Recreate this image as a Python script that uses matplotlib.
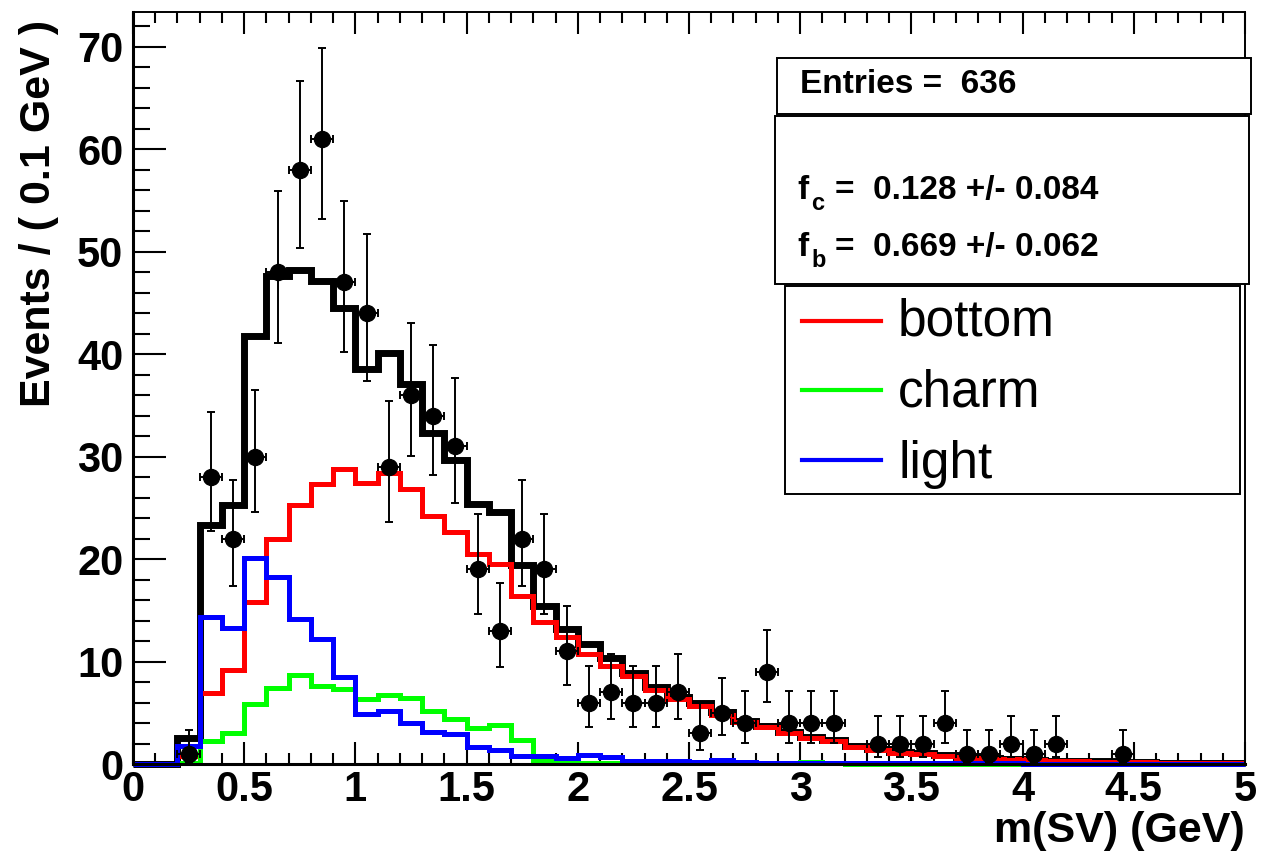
import math
import numpy as np
import matplotlib
matplotlib.use("Agg")
import matplotlib.pyplot as plt
from matplotlib.patches import Rectangle
from matplotlib.lines import Line2D

# ---------------- data ----------------
bin_edges = np.round(np.arange(0.0, 5.0001, 0.1), 2)

data_counts = [0, 0, 1, 28, 22, 30, 48, 58, 61, 47,
               44, 29, 36, 34, 31, 19, 13, 22, 19, 11,
               6, 7, 6, 6, 7, 3, 5, 4, 9, 4,
               4, 4, 0, 2, 2, 2, 4, 1, 1, 2,
               1, 2, 0, 0, 1, 0, 0, 0, 0, 0]

total_fit = [0, 0, 2.5, 23.3, 25.3, 41.8, 47.6, 48.2, 47.1, 44.5,
             38.6, 40.1, 37.1, 32.3, 29.7, 25.4, 24.6, 19.4, 15.4, 13.2,
             11.7, 10.3, 8.9, 7.5, 6.5, 6.0, 5.1, 4.2, 3.7, 3.1,
             2.6, 2.3, 1.8, 1.5, 1.2, 1.05, 0.85, 0.65, 0.55, 0.5,
             0.4, 0.33, 0.28, 0.25, 0.22, 0.18, 0.14, 0.12, 0.1, 0.08]

bottom_fit = [0, 0, 0.8, 6.9, 9.2, 15.8, 22.0, 25.3, 27.3, 28.8,
              27.4, 28.4, 26.8, 24.2, 22.6, 20.5, 19.5, 16.4, 13.9, 12.4,
              10.7, 9.6, 8.6, 7.2, 6.3, 5.7, 4.8, 4.1, 3.6, 3.0,
              2.5, 2.2, 1.7, 1.4, 1.1, 1.0, 0.8, 0.6, 0.5, 0.45,
              0.35, 0.3, 0.25, 0.22, 0.2, 0.15, 0.12, 0.1, 0.08, 0.06]

charm_fit = [0, 0, 0.1, 2.2, 3.0, 5.9, 7.4, 8.7, 7.6, 7.3,
             6.3, 6.7, 6.4, 5.2, 4.4, 3.5, 3.8, 2.3, 0.3, 0.2,
             0.1, 0.1, 0.05, 0.05, 0.05, 0.15, 0.15, 0.05, 0.05, 0.05,
             0.15, 0.05, 0.02, 0.02, 0.02, 0.02, 0.02, 0.02, 0.02, 0.02,
             0.01, 0.01, 0.01, 0.01, 0.01, 0.01, 0.01, 0.01, 0.01, 0.01]

light_fit = [0, 0, 1.8, 14.3, 13.3, 20.1, 18.3, 14.2, 12.2, 8.5,
             4.9, 5.2, 4.0, 3.1, 2.9, 1.7, 1.4, 0.8, 0.8, 0.6,
             0.9, 0.7, 0.3, 0.3, 0.3, 0.2, 0.35, 0.15, 0.1, 0.1,
             0.1, 0.1, 0.05, 0.05, 0.05, 0.05, 0.05, 0.05, 0.05, 0.05,
             0.03, 0.03, 0.03, 0.03, 0.03, 0.03, 0.03, 0.03, 0.03, 0.03]

x_tick_labels = ["0", "0.5", "1", "1.5", "2", "2.5", "3", "3.5", "4", "4.5", "5"]
y_tick_labels = ["0", "10", "20", "30", "40", "50", "60", "70"]

legend_labels = ["bottom", "charm", "light"]
legend_colors = ["#ff0000", "#00ff00", "#0000ff"]

entries_text = "Entries =  636"
fc_text = "=  0.128 +/- 0.084"
fb_text = "=  0.669 +/- 0.062"


# ---------------- Poisson (Garwood) error bars ----------------
def pois_cdf(n, mu):
    if n < 0:
        return 0.0
    s = 0.0
    for k in range(n + 1):
        s += math.exp(-mu + k * math.log(mu) - math.lgamma(k + 1)) if mu > 0 else (1.0 if k == 0 else 0.0)
    return s


def solve(f, target, lo, hi):
    # f decreasing in mu
    for _ in range(100):
        mid = 0.5 * (lo + hi)
        if f(mid) > target:
            lo = mid
        else:
            hi = mid
    return 0.5 * (lo + hi)


alpha = 0.158655
centers = 0.5 * (bin_edges[:-1] + bin_edges[1:])
pts_x, pts_y, err_lo, err_hi = [], [], [], []
for c, n in zip(centers, data_counts):
    if n <= 0:
        continue
    up = solve(lambda m: pois_cdf(n, m), alpha, 0.0, n + 10 * math.sqrt(n) + 10)
    low = solve(lambda m: pois_cdf(n - 1, m), 1 - alpha, 0.0, n + 10)
    pts_x.append(c)
    pts_y.append(n)
    err_lo.append(n - low)
    err_hi.append(up - n)

# ---------------- figure ----------------
plt.rcParams["font.family"] = ["Liberation Sans", "DejaVu Sans"]

W, H = 1262, 855
fig = plt.figure(figsize=(W / 100, H / 100), dpi=100)
fig.patch.set_facecolor("white")


def fx(px):
    return px / W


def fy(py):
    return 1 - py / H


ax = fig.add_axes([fx(133), fy(764), fx(1245) - fx(133), fy(12) - fy(764)])
ax.set_xlim(0, 5)
ax.set_ylim(0, 73.4)

for side in ["left", "bottom"]:
    ax.spines[side].set_linewidth(2.2)
for side in ["top", "right"]:
    ax.spines[side].set_linewidth(1.4)

ax.set_xticks(np.arange(0, 5.01, 0.5))
ax.set_xticks(np.arange(0, 5.01, 0.1), minor=True)
ax.set_yticks(np.arange(0, 70.1, 10))
ax.set_yticks(np.arange(0, 73.4, 2), minor=True)
ax.set_xticklabels(x_tick_labels, fontsize=30, fontweight="bold")
ax.set_yticklabels(y_tick_labels, fontsize=30, fontweight="bold")

ax.tick_params(axis="x", which="major", direction="in", length=16, width=1.5,
               top=True, pad=4)
ax.tick_params(axis="x", which="minor", direction="in", length=8, width=1.5,
               top=True)
ax.tick_params(axis="y", which="major", direction="in", length=24, width=1.5,
               right=False, pad=7)
ax.tick_params(axis="y", which="minor", direction="in", length=12, width=1.5,
               right=False)

# histograms
ax.stairs(total_fit, bin_edges, color="black", lw=5, baseline=None, zorder=2, clip_on=False)
ax.stairs(bottom_fit, bin_edges, color=legend_colors[0], lw=3.6, baseline=None, zorder=2.1, clip_on=False)
ax.stairs(charm_fit, bin_edges, color=legend_colors[1], lw=3.6, baseline=None, zorder=2.2, clip_on=False)
ax.stairs(light_fit, bin_edges, color=legend_colors[2], lw=3.6, baseline=None, zorder=2.3, clip_on=False)

# data points
ax.errorbar(pts_x, pts_y, xerr=0.05, yerr=[err_lo, err_hi], fmt="o",
            color="black", ms=11.5, elinewidth=1.4, capsize=3, capthick=1.4,
            zorder=5)

# axis titles
fig.text(fx(1245), fy(842), "m(SV) (GeV)", fontsize=31, fontweight="bold",
         ha="right", va="baseline")
fig.text(fx(50), fy(20), "Events / ( 0.1 GeV )", fontsize=31, fontweight="bold",
         rotation=90, rotation_mode="anchor", ha="right", va="baseline")


# boxes
def box(x0, y0, x1, y1, lw=1.4):
    r = Rectangle((fx(x0), fy(y1)), fx(x1) - fx(x0), fy(y0) - fy(y1),
                  transform=fig.transFigure, facecolor="white",
                  edgecolor="black", lw=lw, zorder=10)
    fig.add_artist(r)


box(777, 58, 1251, 114)
box(775, 116, 1249, 284)
box(785, 286, 1240, 494)

fig.text(fx(800), fy(93), entries_text, fontsize=24, fontweight="bold",
         ha="left", va="baseline", zorder=11)

fig.text(fx(797), fy(199), "f", fontsize=24, fontweight="bold",
         ha="left", va="baseline", zorder=11)
fig.text(fx(811), fy(210), "c", fontsize=17, fontweight="bold",
         ha="left", va="baseline", zorder=11)
fig.text(fx(835), fy(199), fc_text, fontsize=24, fontweight="bold",
         ha="left", va="baseline", zorder=11)

fig.text(fx(797), fy(256), "f", fontsize=24, fontweight="bold",
         ha="left", va="baseline", zorder=11)
fig.text(fx(811), fy(267), "b", fontsize=17, fontweight="bold",
         ha="left", va="baseline", zorder=11)
fig.text(fx(835), fy(256), fb_text, fontsize=24, fontweight="bold",
         ha="left", va="baseline", zorder=11)

# legend entries
line_y = [321, 390, 460]
text_y = [335, 406, 478]
for lab, col, ly, ty in zip(legend_labels, legend_colors, line_y, text_y):
    fig.add_artist(Line2D([fx(802), fx(881)], [fy(ly), fy(ly)], color=col,
                          lw=3, transform=fig.transFigure, zorder=11))
    fig.text(fx(898), fy(ty), lab, fontsize=37, ha="left", va="baseline",
             zorder=11)

fig.savefig("out.png", dpi=100, facecolor="white")
